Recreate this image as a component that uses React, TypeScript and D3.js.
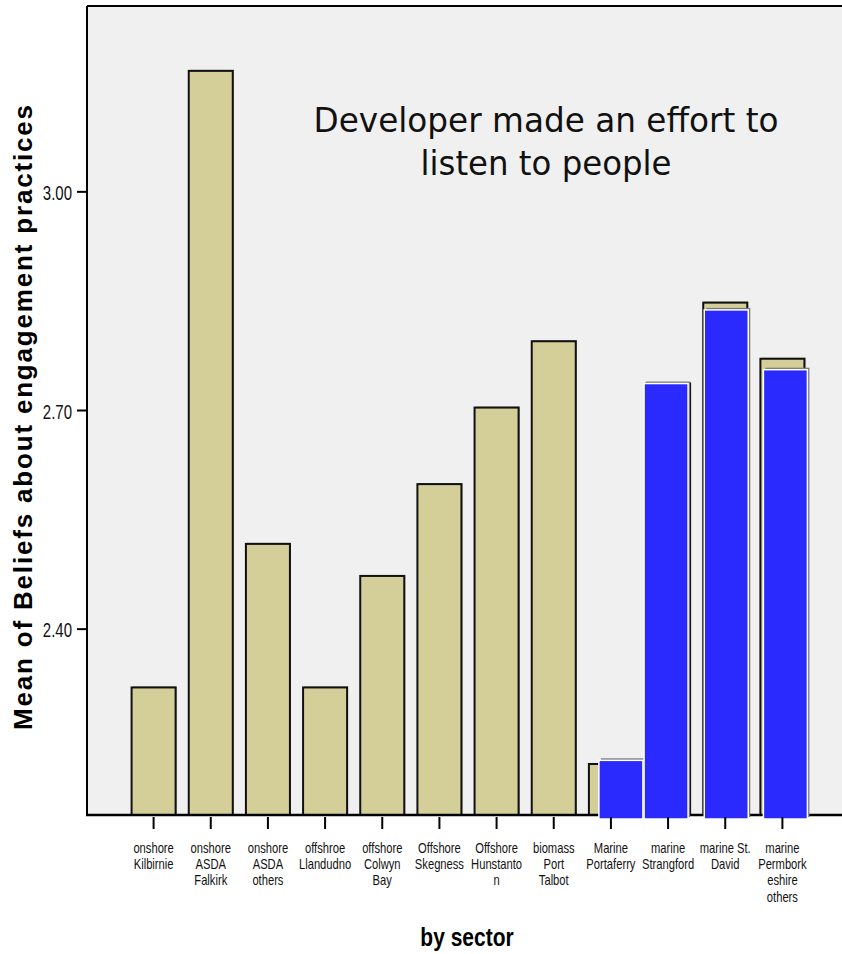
import React from 'react';
import * as d3 from 'd3';

// sector labels (line breaks as in the original chart)
const categories = [
  'onshore\nKilbirnie',
  'onshore\nASDA\nFalkirk',
  'onshore\nASDA\nothers',
  'offshroe\nLlandudno',
  'offshore\nColwyn\nBay',
  'Offshore\nSkegness',
  'Offshore\nHunstanto\nn',
  'biomass\nPort\nTalbot',
  'Marine\nPortaferry',
  'marine\nStrangford',
  'marine St.\nDavid',
  'marine\nPermbork\neshire\nothers',
];

// SPSS means (tan bars)
const means = [2.32, 3.166, 2.517, 2.32, 2.473, 2.599, 2.704, 2.795, 2.215, 2.737, 2.848, 2.771];

// pasted-over blue bars for the marine sites
const overlayValues = [null, null, null, null, null, null, null, null, 2.22, 2.737, 2.838, 2.756];
const overlayShift = [0, 0, 0, 0, 0, 0, 0, 0, 10, -2, 1, 3];

const yTicks = [2.4, 2.7, 3.0];
const yDomain = [2.145, 3.255];

const titleLines = ['Developer made an effort to', 'listen to people'];
const titleWidths = [465, 251];

const W = 842;
const H = 954;
const left = 87;
const top = 6;
const bottom = 815;
const arial = '"Liberation Sans", Arial, sans-serif';

export default function App() {
  const x = d3.scaleBand<string>()
    .domain(categories)
    .range([left, 849])
    .paddingInner(0.23)
    .paddingOuter(0.78);
  const y = d3.scaleLinear().domain(yDomain).range([bottom, top]);
  const bw = x.bandwidth();

  return (
    <svg width={W} height={H} style={{ position: 'absolute', left: 0, top: 0, background: '#fff' }}>
      {/* plot background */}
      <rect x={left} y={top} width={W - left} height={bottom - top} fill="#f0f0f0" />

      {/* tan bars */}
      {categories.map((c, i) => {
        const bx = x(c)!;
        const by = y(means[i]);
        return (
          <g key={'m' + i}>
            <rect x={bx + 1} y={by - 1} width={bw} height={bottom - by} fill="#8a8a8a" />
            <rect x={bx} y={by} width={bw} height={bottom - by} fill="#d4cf99" stroke="#111" strokeWidth={2} />
          </g>
        );
      })}

      {/* axes frame */}
      <line x1={left} x2={W} y1={top} y2={top} stroke="#000" strokeWidth={2} />
      <line x1={left} x2={left} y1={top} y2={bottom} stroke="#000" strokeWidth={2} />
      <line x1={left - 1} x2={W} y1={bottom} y2={bottom} stroke="#000" strokeWidth={2.5} />

      {/* blue overlay bars */}
      {categories.map((c, i) => {
        const v = overlayValues[i];
        if (v == null) return null;
        const bx = x(c)! + overlayShift[i];
        const by = y(v);
        return (
          <g key={'o' + i}>
            <rect x={bx + 2} y={by - 2} width={bw} height={bottom + 4 - by} fill="#777" />
            <rect x={bx} y={by} width={bw} height={bottom + 4 - by} fill="#2a2aff" stroke="#fff" strokeWidth={1.5} />
          </g>
        );
      })}

      {/* y ticks */}
      {yTicks.map(t => (
        <g key={'y' + t}>
          <line x1={left - 10} x2={left} y1={y(t)} y2={y(t)} stroke="#000" strokeWidth={2} />
          <text
            transform={`translate(${left - 15},${y(t) + 1}) scale(0.75,1)`}
            dy="0.35em"
            textAnchor="end"
            fontFamily={arial}
            fontSize={20}
            fill="#111"
          >
            {d3.format('.2f')(t)}
          </text>
        </g>
      ))}

      {/* x ticks and labels */}
      {categories.map(c => {
        const cx = x(c)! + bw / 2;
        return (
          <g key={'x' + c}>
            <line x1={cx} x2={cx} y1={bottom + 2} y2={bottom + 14} stroke="#000" strokeWidth={2} />
            <text
              transform={`translate(${cx},0) scale(0.8,1)`}
              textAnchor="middle"
              fontFamily={arial}
              fontSize={14}
              fill="#111"
            >
              {c.split('\n').map((ln, k) => (
                <tspan key={k} x={0} y={853 + k * 16.2}>{ln}</tspan>
              ))}
            </text>
          </g>
        );
      })}

      {/* axis titles */}
      <text
        transform={`translate(32,${(105 + 730) / 2}) rotate(-90)`}
        textAnchor="middle"
        fontFamily={arial}
        fontWeight="bold"
        fontSize={26}
        textLength={625}
        lengthAdjust="spacing"
      >
        Mean of Beliefs about engagement practices
      </text>
      <text
        transform="translate(467,946) scale(0.84,1)"
        textAnchor="middle"
        fontFamily={arial}
        fontWeight="bold"
        fontSize={25}
      >
        by sector
      </text>

      {/* annotation */}
      {titleLines.map((ln, k) => (
        <text
          key={k}
          x={546 - titleWidths[k] / 2}
          y={132 + k * 43}
          fontFamily='"DejaVu Sans", Verdana, sans-serif'
          fontSize={34}
          fill="#111"
          textLength={titleWidths[k]}
          lengthAdjust="spacingAndGlyphs"
        >
          {ln}
        </text>
      ))}
    </svg>
  );
}
